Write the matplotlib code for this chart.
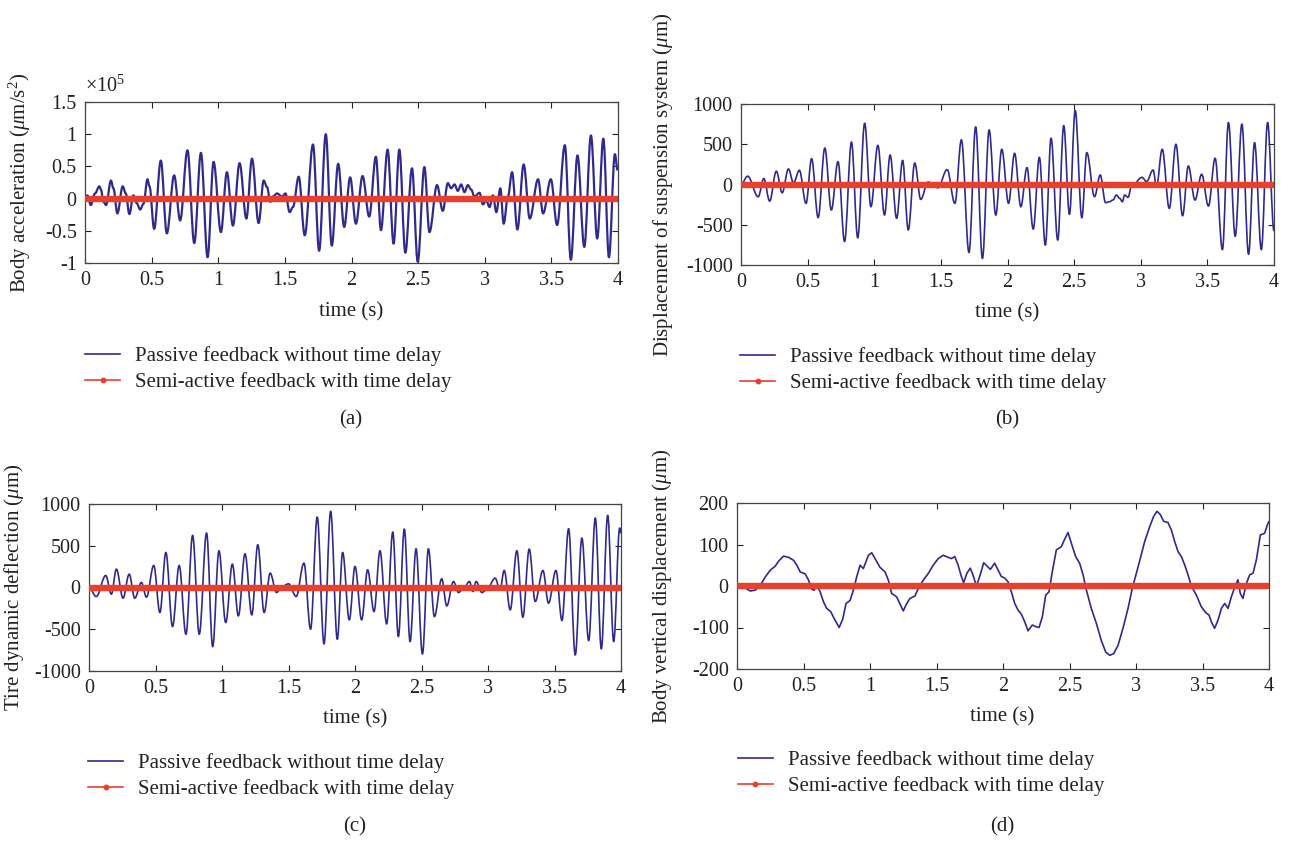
import matplotlib
matplotlib.use("Agg")
import matplotlib.pyplot as plt
from matplotlib.path import Path
from matplotlib.patches import PathPatch
from matplotlib.lines import Line2D
from matplotlib.ticker import FuncFormatter

plt.rcParams['font.family'] = ['Liberation Serif', 'DejaVu Serif']
plt.rcParams['mathtext.fontset'] = 'custom'
plt.rcParams['mathtext.rm'] = 'Liberation Serif'
plt.rcParams['mathtext.it'] = 'Liberation Serif:italic'
plt.rcParams['axes.unicode_minus'] = False

# ---------------- data ----------------
# (a) body acceleration, passive, in units of 1e5 um/s^2 (local extrema)
acc_t = [0.0, 0.018, 0.043, 0.075, 0.108, 0.12, 0.138, 0.158, 0.195, 0.213, 0.243, 0.283, 0.306, 0.333,
         0.363, 0.388, 0.414, 0.439, 0.469, 0.484, 0.519, 0.569, 0.614, 0.669, 0.714, 0.769, 0.82, 0.87,
         0.92, 0.965, 1.02, 1.065, 1.11, 1.16, 1.211, 1.253, 1.303, 1.341, 1.366, 1.391, 1.416, 1.441,
         1.479, 1.504, 1.536, 1.561, 1.604, 1.649, 1.711, 1.757, 1.807, 1.852, 1.9, 1.945, 1.99, 2.033,
         2.083, 2.133, 2.183, 2.221, 2.271, 2.316, 2.359, 2.404, 2.454, 2.497, 2.547, 2.585, 2.642,
         2.685, 2.723, 2.748, 2.773, 2.798, 2.823, 2.848, 2.873, 2.898, 2.923, 2.961, 2.986, 3.011,
         3.036, 3.061, 3.087, 3.117, 3.142, 3.174, 3.205, 3.245, 3.292, 3.338, 3.4, 3.438, 3.496,
         3.543, 3.601, 3.646, 3.696, 3.747, 3.797, 3.844, 3.89, 3.932, 3.977, 3.997]
acc_v = [0.0, 0.05, -0.10, 0.08, 0.19, 0.14, -0.05, -0.10, 0.28, 0.16, -0.23, 0.19, 0.08, -0.24,
         0.05, -0.07, -0.17, -0.08, 0.30, 0.19, -0.47, 0.59, -0.54, 0.36, -0.34, 0.75, -0.69, 0.71,
         -0.91, 0.57, -0.52, 0.41, -0.42, 0.55, -0.31, 0.62, -0.38, 0.28, 0.18, -0.05, 0.04, 0.08,
         0.03, 0.08, -0.21, -0.13, 0.34, -0.57, 0.84, -0.81, 1.00, -0.73, 0.54, -0.44, 0.33, -0.39,
         0.35, -0.28, 0.65, -0.49, 0.76, -0.70, 0.76, -0.84, 0.47, -0.98, 0.49, -0.52, 0.21,
         -0.19, 0.24, 0.16, 0.22, 0.12, 0.22, 0.10, 0.21, 0.14, 0.03, 0.09, -0.09, -0.03,
         -0.13, 0.05, -0.21, 0.16, -0.39, 0.03, 0.41, -0.48, 0.53, -0.31, 0.30, -0.23, 0.30,
         -0.41, 0.83, -0.95, 0.67, -0.75, 0.98, -0.62, 0.93, -0.91, 0.69, 0.44]

# (b) displacement of suspension system, passive (um)
sus_t = [0.0, 0.05, 0.129, 0.171, 0.215, 0.265, 0.309, 0.356, 0.394, 0.438, 0.488, 0.53, 0.579, 0.629,
         0.678, 0.728, 0.777, 0.829, 0.876, 0.928, 0.975, 1.027, 1.077, 1.119, 1.168, 1.213, 1.255,
         1.304, 1.349, 1.403, 1.478, 1.547, 1.605, 1.654, 1.711, 1.761, 1.812, 1.862, 1.912, 1.957,
         2.008, 2.053, 2.1, 2.146, 2.193, 2.239, 2.284, 2.327, 2.377, 2.422, 2.465, 2.508, 2.558,
         2.595, 2.653, 2.696, 2.736, 2.766, 2.791, 2.817, 2.842, 2.862, 2.879, 2.905, 2.93, 3.01,
         3.043, 3.093, 3.118, 3.161, 3.214, 3.264, 3.314, 3.357, 3.407, 3.457, 3.508, 3.558, 3.613,
         3.658, 3.709, 3.759, 3.809, 3.854, 3.905, 3.952, 4.0]
sus_v = [0, 103, -152, 74, -206, 165, -103, 193, 20, 177, -235, 321, -412, 453,
         -317, 284, -708, 527, -663, 761, -276, 486, -379, 366, -420, 300, -564,
         267, -185, 30, -40, 185, -235, 555, -845, 716, -919, 678, -380, 438,
         -234, 388, -276, 210, -554, 338, -753, 575, -691, 732, -371, 919, -413,
         396, -151, 118, -226, -214, -193, -131, -172, -214, -131, -160, -27, 89,
         35, 180, -27, 438, -297, 500, -388, 230, -193, 127, -268, 326, -809,
         770, -643, 750, -867, 520, -809, 770, -575]

# (c) tire dynamic deflection, passive (um)
tire_t = [0.0, 0.055, 0.126, 0.168, 0.206, 0.256, 0.302, 0.344, 0.394, 0.432, 0.487, 0.533, 0.578,
          0.628, 0.678, 0.729, 0.779, 0.829, 0.884, 0.93, 0.977, 1.028, 1.078, 1.123, 1.173, 1.224,
          1.269, 1.317, 1.362, 1.41, 1.45, 1.5, 1.558, 1.616, 1.666, 1.716, 1.767, 1.817, 1.867,
          1.907, 1.957, 2.0, 2.05, 2.095, 2.143, 2.188, 2.238, 2.284, 2.326, 2.371, 2.414, 2.459,
          2.507, 2.552, 2.597, 2.652, 2.69, 2.74, 2.778, 2.82, 2.861, 2.886, 2.911, 2.954, 2.99,
          3.054, 3.09, 3.122, 3.167, 3.217, 3.262, 3.31, 3.355, 3.413, 3.455, 3.511, 3.556, 3.606,
          3.656, 3.706, 3.757, 3.807, 3.852, 3.9, 3.945, 3.99, 4.0]
tire_v = [0, -108, 144, -80, 220, -128, 160, -128, 60, -116, 264, -300, 420,
          -468, 264, -560, 624, -560, 652, -708, 440, -420, 280, -340, 404, -328,
          512, -300, 172, -60, 10, 44, -108, 292, -500, 844, -676, 912, -620,
          420, -388, 252, -388, 212, -288, 440, -436, 664, -588, 700, -648, 464,
          -796, 464, -348, 104, -220, 72, -60, 0, 72, -48, 72, -60, -28,
          112, -28, 204, -268, 440, -356, 460, -168, 204, -188, 204, -396, 704,
          -808, 592, -636, 832, -736, 864, -648, 712, 650]

# (d) body vertical displacement, passive (um)
body_t = [0.0, 0.05, 0.1, 0.138, 0.175, 0.213, 0.25, 0.288, 0.313, 0.35, 0.388, 0.425, 0.45, 0.475,
          0.513, 0.538, 0.563, 0.58, 0.6, 0.625, 0.65, 0.675, 0.705, 0.73, 0.768, 0.795, 0.82, 0.85,
          0.875, 0.9, 0.925, 0.95, 0.988, 1.013, 1.038, 1.075, 1.113, 1.138, 1.163, 1.2, 1.225, 1.25,
          1.275, 1.3, 1.338, 1.363, 1.4, 1.438, 1.475, 1.513, 1.55, 1.588, 1.612, 1.637, 1.662, 1.687,
          1.704, 1.729, 1.754, 1.774, 1.8, 1.825, 1.855, 1.88, 1.905, 1.937, 1.962, 1.987, 2.013,
          2.038, 2.063, 2.088, 2.113, 2.138, 2.163, 2.188, 2.221, 2.246, 2.271, 2.296, 2.321, 2.346,
          2.371, 2.401, 2.439, 2.464, 2.489, 2.514, 2.546, 2.576, 2.602, 2.627, 2.664, 2.702, 2.739,
          2.772, 2.802, 2.832, 2.865, 2.902, 2.94, 2.972, 3.003, 3.033, 3.065, 3.103, 3.133, 3.158,
          3.183, 3.208, 3.24, 3.266, 3.291, 3.316, 3.341, 3.366, 3.391, 3.416, 3.454, 3.491, 3.524,
          3.549, 3.566, 3.591, 3.617, 3.642, 3.667, 3.692, 3.717, 3.742, 3.767, 3.784, 3.804, 3.83,
          3.855, 3.88, 3.905, 3.935, 3.967, 3.992, 4.0]
body_v = [0, -3, -12, -10, 2, 22, 38, 48, 60, 72, 69, 62, 50, 34,
          29, 14, -8, -10, 2, -14, -38, -54, -62, -78, -100, -80, -42, -35,
          -10, 22, 50, 42, 74, 80, 66, 45, 34, 14, -18, -26, -43, -60,
          -43, -30, -24, -6, 14, 30, 50, 66, 74, 69, 66, 71, 51, 23,
          8, 31, 43, 27, 0, 23, 56, 48, 40, 55, 39, 23, 19,
          10, -14, -42, -58, -68, -86, -108, -94, -98, -100, -74, -22, -14,
          35, 87, 95, 113, 129, 103, 71, 55, 27, -10, -54, -90, -131,
          -159, -167, -163, -143, -102, -54, -6, 31, 67, 107, 143, 168, 180,
          172, 156, 153, 135, 107, 83, 71, 51, 27, 0, -22, -50, -64,
          -70, -86, -102, -82, -54, -42, -54, -26, -3, 15, -18, -30, 6,
          27, 31, 63, 123, 127, 151, 155]

# semi-active feedback with time delay (practically zero in all panels)
semi_t = [0.0, 0.5, 1.0, 1.5, 2.0, 2.5, 3.0, 3.5, 4.0]
semi_v = [0, 0, 0, 0, 0, 0, 0, 0, 0]

x_ticks = [0, 0.5, 1, 1.5, 2, 2.5, 3, 3.5, 4]
legend_labels = ["Passive feedback without time delay", "Semi-active feedback with time delay"]

BLUE = '#2f2a8c'
RED = '#e8402c'
FS = 14.5
LFS = 15

W, H = 1290, 842
fig = plt.figure(figsize=(W / 100, H / 100), dpi=100)


def px_axes(l, r, t, b):
    return fig.add_axes([l / W, 1 - b / H, (r - l) / W, (b - t) / H])


def smooth_line(ax, t, v, lw, color):
    k = 0.3642
    verts = [(t[0], v[0])]
    codes = [Path.MOVETO]
    for i in range(len(t) - 1):
        dt = t[i + 1] - t[i]
        verts += [(t[i] + k * dt, v[i]), (t[i + 1] - k * dt, v[i + 1]), (t[i + 1], v[i + 1])]
        codes += [Path.CURVE4] * 3
    patch = PathPatch(Path(verts, codes), facecolor='none', edgecolor=color, lw=lw,
                      transform=ax.transData, zorder=2, joinstyle='round')
    ax.add_patch(patch)


panels = [
    dict(box=(85, 618, 102, 263), t=acc_t, v=acc_v, smooth=True, lw=1.6, ylim=(-1, 1.5),
         yticks=[-1, -0.5, 0, 0.5, 1, 1.5], ylabel=r"Body acceleration ($\mu$m/s$^2$)",
         ylab_x=20, xlab=(351, 312), leg=(85, 354), cap=(351, 420), capt="(a)"),
    dict(box=(741, 1274, 104, 265), t=sus_t, v=sus_v, smooth=True, lw=1.2, ylim=(-1000, 1000),
         yticks=[-1000, -500, 0, 500, 1000], ylabel=r"Displacement of suspension system ($\mu$m)",
         ylab_x=663, xlab=(1007, 313), leg=(740, 355), cap=(1007, 420), capt="(b)"),
    dict(box=(89, 621, 504, 671), t=tire_t, v=tire_v, smooth=True, lw=1.2, ylim=(-1000, 1000),
         yticks=[-1000, -500, 0, 500, 1000], ylabel=r"Tire dynamic deflection ($\mu$m)",
         ylab_x=14, xlab=(355, 719), leg=(88, 761), cap=(355, 827), capt="(c)"),
    dict(box=(737, 1269, 503, 669), t=body_t, v=body_v, smooth=False, lw=1.2, ylim=(-200, 200),
         yticks=[-200, -100, 0, 100, 200], ylabel=r"Body vertical displacement ($\mu$m)",
         ylab_x=662, xlab=(1002, 717), leg=(738, 758), cap=(1002, 827), capt="(d)"),
]

for p in panels:
    l, r, t, b = p['box']
    ax = px_axes(l, r, t, b)
    if p['smooth']:
        smooth_line(ax, p['t'], p['v'], p['lw'], BLUE)
    else:
        ax.plot(p['t'], p['v'], color=BLUE, lw=p['lw'], zorder=2)
    ax.plot(semi_t, semi_v, color=RED, lw=4.6, zorder=3, solid_capstyle='butt')
    ax.set_xlim(0, 4)
    ax.set_ylim(*p['ylim'])
    ax.set_xticks(x_ticks)
    ax.set_yticks(p['yticks'])
    fmt = FuncFormatter(lambda x, pos: f"{x:g}")
    ax.xaxis.set_major_formatter(fmt)
    ax.yaxis.set_major_formatter(fmt)
    ax.tick_params(direction='in', top=True, right=True, length=4, width=0.8,
                   labelsize=FS, colors='#222222', pad=6)
    for s in ax.spines.values():
        s.set_color('#444444')
        s.set_linewidth(0.9)
    # labels
    ax.set_xlabel("time (s)", fontsize=LFS, color='#222222')
    ax.xaxis.label.set_va('center')
    ax.xaxis.set_label_coords((p['xlab'][0] - l) / (r - l), (b - p['xlab'][1]) / (b - t))
    ax.set_ylabel(p['ylabel'], fontsize=LFS, color='#222222')
    ax.yaxis.label.set_va('center')
    ax.yaxis.set_label_coords((p['ylab_x'] - l) / (r - l), 0.5)
    # legend
    handles = [Line2D([], [], color=BLUE, lw=1.2),
               Line2D([], [], color=RED, lw=1.2, marker='o', markersize=3.2)]
    lx, ly = p['leg']
    fig.legend(handles, legend_labels, loc='upper left', frameon=False, fontsize=LFS,
               bbox_to_anchor=(lx / W, 1 - (ly - 8) / H), borderaxespad=0, borderpad=0,
               handlelength=1.68, handletextpad=0.72, labelspacing=0.3,
               labelcolor='#222222')
    fig.text(p['cap'][0] / W, 1 - p['cap'][1] / H, p['capt'], fontsize=LFS,
             ha='center', va='center', color='#222222')

fig.text(85 / W, 1 - 86 / H, r"$\times$10$^5$", fontsize=FS, ha='left', va='center', color='#222222')

fig.savefig("out.png", dpi=100)
